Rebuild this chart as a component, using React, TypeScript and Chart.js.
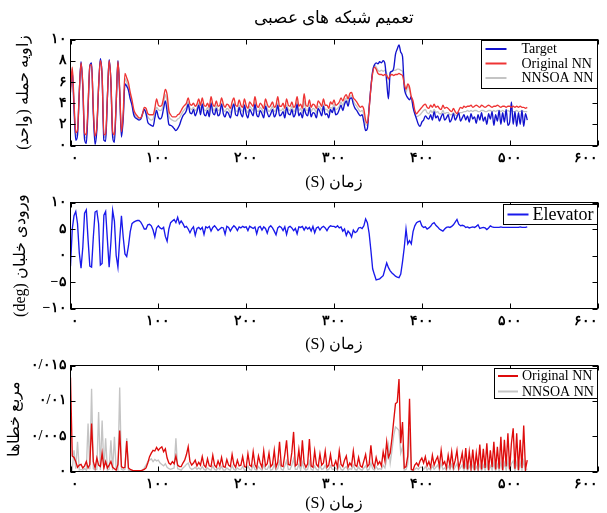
import React, { useEffect, useRef } from 'react';
import { Chart, registerables } from 'chart.js';

Chart.register(...registerables);

// ---------------- data ----------------
const SAMPLE_STEP_S = 2;
const TIME_S: number[] = Array.from({ length: 261 }, (_, i) => i * SAMPLE_STEP_S);

const TITLE_TEXT = 'تعمیم شبکه های عصبی';
const X_TITLE = '(S) زمان';
const Y1_TITLE = 'زاویه حمله (واحد)';
const Y2_TITLE = '(deg) ورودی خلبان';
const Y3_TITLE = 'مربع خطاها';

const X_TICKS = [0, 100, 200, 300, 400, 500, 600];

const TARGET_AOA = [
  5.5, 7.0, 3.5, 0.5, 1.0, 5.0, 7.9, 5.5, 0.6, 0.2, 3.5, 7.5, 7.8, 3.0, 0.1, 1.5, 5.5, 8.2, 6.5, 0.5, 0.4, 4.5, 8.1, 6.0, 0.8,
  0.3, 4.0, 8.0, 5.0, 0.8, 2.5, 5.8, 5.6, 5.2, 4.4, 3.8, 2.9, 2.6, 2.5, 2.4, 2.5, 3.0, 3.4, 3.0, 2.2, 2.0, 1.9, 1.8, 2.6, 3.3,
  2.7, 2.5, 2.7, 3.5, 4.2, 3.2, 2.0, 1.9, 1.8, 1.6, 1.4, 1.6, 1.9, 2.4, 2.8, 3.0, 3.3, 3.9, 3.1, 3.0, 3.4, 2.8, 3.2, 3.8, 2.9,
  3.9, 3.0, 2.8, 3.3, 2.7, 4.0, 3.1, 2.9, 3.5, 2.8, 3.0, 3.9, 3.0, 2.7, 3.2, 3.0, 2.6, 3.4, 3.9, 2.9, 2.8, 3.6, 3.0, 2.7, 3.8,
  3.0, 2.6, 3.4, 3.1, 2.8, 3.9, 2.9, 2.7, 3.3, 3.0, 2.6, 3.7, 3.1, 2.7, 3.0, 3.4, 2.7, 3.0, 3.8, 2.8, 2.9, 3.2, 2.6, 3.6, 3.0,
  2.9, 3.4, 2.7, 3.0, 3.9, 2.8, 3.1, 2.6, 3.5, 3.0, 2.8, 3.6, 2.7, 3.1, 3.0, 2.6, 3.5, 3.2, 2.8, 3.7, 2.9, 3.0, 2.6, 3.4, 3.1,
  3.6, 2.9, 3.0, 3.4, 3.8, 3.3, 3.9, 4.2, 3.7, 4.4, 4.5, 3.9, 3.5, 3.3, 3.0, 2.8, 2.9, 2.2, 1.4, 1.6, 3.6, 5.5, 7.0, 7.6, 7.8,
  7.7, 7.9, 7.8, 8.0, 7.7, 6.0, 4.4, 6.9, 7.0, 7.3, 8.6, 9.1, 9.5, 8.8, 8.4, 5.5, 4.8, 4.5, 4.3, 4.6, 3.6, 3.0, 2.5, 2.0, 1.8,
  2.2, 2.4, 2.8, 2.6, 2.5, 2.9, 2.4, 3.2, 2.6, 2.8, 2.3, 2.7, 3.0, 2.4, 2.6, 2.9, 2.2, 2.5, 3.0, 2.4, 2.7, 3.1, 2.3, 2.6, 2.9,
  2.4, 2.8, 2.2, 3.0, 2.5, 2.7, 2.1, 2.9, 2.4, 3.1, 2.3, 2.7, 2.0, 3.0, 2.5, 3.2, 1.9, 2.9, 2.3, 3.3, 2.0, 3.1, 2.2, 3.4, 1.9,
  2.2, 4.1, 2.0, 3.2, 1.8, 3.1, 2.0, 3.3, 1.8, 3.0, 2.4,
];

const ORIGINAL_NN_AOA = [
  5.0, 7.4, 4.0, 1.2, 1.5, 5.0, 7.8, 5.8, 1.2, 1.0, 3.8, 7.6, 7.6, 3.4, 0.9, 1.8, 5.6, 8.0, 6.6, 1.0, 1.1, 4.6, 8.0, 6.1, 1.3,
  1.0, 4.0, 7.9, 5.3, 1.3, 3.0, 6.8, 6.4, 5.9, 5.0, 4.3, 3.4, 3.0, 2.8, 2.6, 2.6, 3.0, 3.6, 3.5, 3.0, 2.9, 2.9, 2.9, 3.5, 4.4,
  3.8, 3.7, 3.8, 4.5, 5.3, 4.8, 3.3, 2.9, 2.7, 2.7, 2.7, 2.9, 3.0, 3.3, 3.6, 3.8, 4.0, 4.5, 3.9, 3.8, 4.0, 3.7, 3.9, 4.4, 3.8,
  4.5, 3.8, 3.7, 4.0, 3.6, 4.6, 3.9, 3.7, 4.2, 3.7, 3.8, 4.5, 3.9, 3.6, 3.9, 3.8, 3.5, 4.1, 4.5, 3.8, 3.7, 4.3, 3.8, 3.6, 4.4,
  3.8, 3.5, 4.1, 3.9, 3.7, 4.6, 3.8, 3.6, 4.0, 3.8, 3.5, 4.4, 3.9, 3.6, 3.8, 4.1, 3.6, 3.8, 4.6, 3.7, 3.7, 4.0, 3.5, 4.4, 3.8,
  3.7, 4.1, 3.6, 3.8, 4.6, 3.7, 3.9, 3.5, 4.9, 3.8, 3.7, 4.3, 3.6, 3.9, 3.8, 3.5, 4.2, 4.0, 3.7, 4.4, 3.8, 3.8, 3.5, 4.1, 3.9,
  4.3, 3.8, 3.9, 4.1, 4.5, 4.2, 4.6, 4.8, 4.4, 4.9, 5.0, 4.5, 4.3, 4.1, 3.8, 3.6, 3.7, 3.4, 2.4, 2.1, 3.5, 5.4, 6.8, 7.4, 7.2,
  6.8, 6.7, 6.7, 6.6, 6.7, 6.6, 6.3, 6.6, 6.7, 6.6, 6.7, 6.7, 6.8, 6.7, 6.6, 5.8, 5.3, 5.8, 5.5, 4.6, 4.2, 3.3, 3.0, 3.2, 3.4,
  3.6, 3.8, 3.9, 3.6, 3.5, 3.8, 3.6, 3.9, 3.6, 3.7, 3.5, 3.4, 3.8, 3.5, 3.6, 3.5, 3.3, 3.2, 3.5, 3.2, 3.0, 3.3, 3.6, 3.5, 3.7,
  3.6, 3.7, 3.7, 3.8, 3.6, 3.7, 3.8, 3.7, 3.6, 3.8, 3.7, 3.6, 3.7, 3.8, 3.7, 3.6, 3.7, 3.7, 3.8, 3.7, 3.6, 3.7, 3.7, 3.6, 3.7,
  3.7, 3.6, 3.7, 3.6, 3.7, 3.6, 3.7, 3.6, 3.6, 3.5, 3.6,
];

const NNSOA_NN_AOA = [
  5.3, 7.2, 3.8, 0.9, 1.3, 5.0, 7.8, 5.7, 0.9, 0.7, 3.7, 7.5, 7.7, 3.2, 0.6, 1.7, 5.5, 8.1, 6.5, 0.8, 0.8, 4.5, 8.0, 6.0, 1.0,
  0.7, 4.0, 8.0, 5.1, 1.1, 2.7, 6.3, 6.0, 5.5, 4.7, 4.0, 3.1, 2.8, 2.6, 2.5, 2.5, 2.9, 3.4, 3.2, 2.7, 2.5, 2.4, 2.5, 3.1, 3.6,
  3.4, 3.3, 3.4, 4.0, 4.8, 4.1, 2.8, 2.5, 2.4, 2.3, 2.3, 2.5, 2.6, 2.9, 3.2, 3.4, 3.6, 4.1, 3.5, 3.4, 3.6, 3.3, 3.5, 4.0, 3.4,
  4.0, 3.4, 3.3, 3.6, 3.2, 4.1, 3.5, 3.3, 3.8, 3.3, 3.4, 4.0, 3.4, 3.2, 3.5, 3.4, 3.1, 3.7, 4.0, 3.3, 3.2, 3.8, 3.4, 3.2, 3.9,
  3.4, 3.1, 3.7, 3.5, 3.3, 4.1, 3.3, 3.2, 3.6, 3.4, 3.1, 3.9, 3.5, 3.2, 3.4, 3.7, 3.2, 3.4, 4.0, 3.3, 3.3, 3.5, 3.1, 3.8, 3.4,
  3.3, 3.7, 3.2, 3.4, 4.1, 3.3, 3.5, 3.1, 4.2, 3.4, 3.3, 3.8, 3.2, 3.5, 3.4, 3.1, 3.7, 3.6, 3.3, 3.9, 3.4, 3.4, 3.1, 3.6, 3.5,
  3.9, 3.4, 3.5, 3.7, 4.1, 3.8, 4.2, 4.5, 4.0, 4.6, 4.7, 4.2, 3.9, 3.7, 3.4, 3.2, 3.3, 2.9, 2.0, 1.9, 3.5, 5.5, 7.0, 7.6, 7.4,
  7.1, 7.0, 7.1, 7.0, 7.1, 6.8, 6.2, 6.8, 7.0, 7.1, 7.1, 7.2, 7.2, 7.1, 7.0, 5.9, 5.0, 5.6, 5.2, 4.4, 3.8, 3.0, 2.7, 2.8, 2.9,
  3.1, 3.3, 3.4, 3.1, 3.0, 3.3, 3.1, 3.4, 3.1, 3.2, 3.0, 3.0, 3.3, 3.0, 3.1, 3.1, 2.9, 2.9, 3.1, 2.9, 2.8, 3.0, 3.1, 3.1, 3.2,
  3.2, 3.3, 3.2, 3.3, 3.2, 3.3, 3.3, 3.2, 3.2, 3.3, 3.3, 3.2, 3.2, 3.3, 3.3, 3.2, 3.3, 3.2, 3.3, 3.3, 3.2, 3.3, 3.2, 3.2, 3.3,
  3.2, 3.3, 3.2, 3.2, 3.3, 3.2, 3.2, 3.3, 3.2, 3.2, 3.2,
];

const ELEVATOR_DEG = [
  -2.0, 5.0, 7.5, 8.3, 6.0, 0.5, -2.4, 1.5, 8.0, 8.6, 3.0, -2.0, -2.2, 3.5, 8.2, 8.4, 6.0, -1.8, -1.5, 7.6, 8.3, 3.0, -2.2, 2.5, 8.5,
  6.5, 0.0, -2.2, 3.0, 7.5, 3.5, 0.3, -0.2, 1.8, 4.5, 6.0, 6.3, 6.5, 6.6, 6.6, 6.3, 5.7, 5.0, 5.0, 5.8, 5.9, 5.6, 4.8, 3.5, 5.2,
  5.6, 5.2, 5.0, 5.3, 3.6, 2.7, 5.0, 6.2, 6.5, 6.8, 6.2, 7.2, 6.0, 6.5, 6.0, 5.3, 5.5, 5.0, 4.3, 5.0, 5.4, 3.8, 5.1, 5.3, 4.9,
  5.3, 4.0, 5.4, 5.2, 5.5, 4.6, 5.3, 5.6, 5.2, 4.7, 5.0, 5.3, 5.2, 4.0, 5.5, 5.3, 4.6, 5.2, 5.6, 5.3, 4.7, 5.4, 5.2, 5.5, 5.3,
  5.4, 4.7, 5.5, 5.3, 5.1, 5.4, 4.1, 5.3, 5.5, 4.8, 5.4, 5.1, 4.2, 5.3, 5.6, 5.2, 4.6, 3.9, 5.2, 5.5, 5.3, 4.7, 5.4, 4.0, 5.3,
  5.5, 5.2, 4.7, 5.1, 4.1, 5.4, 5.3, 5.5, 4.8, 5.4, 5.0, 5.3, 4.6, 5.5, 4.3, 5.2, 5.4, 4.8, 5.3, 5.5, 5.2, 4.7, 5.3, 5.6, 5.5,
  5.5, 5.3, 5.6, 5.2, 5.4, 4.6, 5.0, 3.8, 4.6, 4.2, 3.5, 4.8, 4.3, 4.5, 5.2, 5.3, 5.1, 5.6, 6.9, 6.2, 4.2, 1.0, -2.5, -3.6, -4.6,
  -4.5, -4.4, -4.1, -3.8, -2.6, -1.4, -2.3, -2.9, -3.3, -3.6, -3.9, -4.1, -4.2, -3.5, -1.2, 1.5, 5.0, 2.2, 2.8, 2.2, 4.5, 5.6, 6.2, 6.4, 6.5,
  5.6, 5.3, 5.4, 5.0, 5.2, 5.5, 6.0, 6.2, 5.7, 5.4, 5.0, 4.8, 4.6, 5.0, 5.3, 5.4, 5.3, 5.5, 5.8, 6.3, 6.8, 5.9, 5.6, 5.7, 5.6,
  5.3, 5.4, 5.2, 5.3, 5.4, 5.3, 5.5, 5.8, 5.1, 5.2, 5.3, 5.2, 4.9, 5.2, 5.6, 5.4, 5.3, 5.3, 5.3, 5.3, 5.4, 5.3, 5.3, 5.3, 5.3,
  5.3, 5.3, 5.3, 5.3, 5.3, 5.3, 5.4, 5.3, 5.3, 5.3, 5.4,
];

const ORIGINAL_NN_SQ_ERR = [
  0.0133, 0.0022, 0.0020, 0.0014, 0.0006, 0.0009, 0.0010, 0.0005, 0.0008, 0.0014, 0.0005, 0.0010, 0.0068, 0.0014, 0.0005, 0.0019, 0.0009, 0.0007, 0.0026, 0.0005, 0.0014, 0.0005, 0.0009, 0.0014, 0.0006,
  0.0004, 0.0002, 0.0010, 0.0058, 0.0007, 0.0005, 0.0006, 0.0043, 0.0005, 0.0003, 0.0002, 0.0001, 0.0001, 0.0001, 0.0001, 0.0001, 0.0002, 0.0003, 0.0005, 0.0012, 0.0021, 0.0026, 0.0030, 0.0029, 0.0034,
  0.0030, 0.0033, 0.0035, 0.0028, 0.0032, 0.0019, 0.0012, 0.0010, 0.0014, 0.0011, 0.0022, 0.0009, 0.0007, 0.0007, 0.0012, 0.0016, 0.0024, 0.0035, 0.0014, 0.0009, 0.0012, 0.0016, 0.0008, 0.0013, 0.0009,
  0.0021, 0.0009, 0.0006, 0.0018, 0.0008, 0.0007, 0.0023, 0.0009, 0.0006, 0.0015, 0.0008, 0.0020, 0.0007, 0.0006, 0.0017, 0.0009, 0.0007, 0.0024, 0.0010, 0.0006, 0.0016, 0.0008, 0.0009, 0.0021, 0.0007,
  0.0006, 0.0025, 0.0009, 0.0007, 0.0028, 0.0010, 0.0005, 0.0022, 0.0012, 0.0006, 0.0029, 0.0008, 0.0011, 0.0026, 0.0007, 0.0010, 0.0030, 0.0006, 0.0013, 0.0042, 0.0008, 0.0007, 0.0024, 0.0044, 0.0010,
  0.0009, 0.0027, 0.0056, 0.0008, 0.0010, 0.0031, 0.0007, 0.0044, 0.0012, 0.0006, 0.0011, 0.0046, 0.0008, 0.0006, 0.0029, 0.0010, 0.0007, 0.0025, 0.0009, 0.0012, 0.0029, 0.0006, 0.0009, 0.0024, 0.0008,
  0.0008, 0.0015, 0.0006, 0.0029, 0.0010, 0.0007, 0.0016, 0.0022, 0.0006, 0.0012, 0.0008, 0.0029, 0.0009, 0.0007, 0.0020, 0.0008, 0.0006, 0.0015, 0.0024, 0.0007, 0.0010, 0.0037, 0.0012, 0.0006, 0.0020,
  0.0010, 0.0014, 0.0008, 0.0028, 0.0015, 0.0042, 0.0020, 0.0026, 0.0047, 0.0072, 0.0096, 0.0098, 0.0131, 0.0040, 0.0070, 0.0005, 0.0007, 0.0022, 0.0103, 0.0003, 0.0002, 0.0009, 0.0012, 0.0008, 0.0015,
  0.0019, 0.0012, 0.0021, 0.0008, 0.0014, 0.0006, 0.0023, 0.0009, 0.0016, 0.0021, 0.0007, 0.0030, 0.0010, 0.0014, 0.0005, 0.0023, 0.0008, 0.0028, 0.0006, 0.0016, 0.0030, 0.0005, 0.0014, 0.0026, 0.0004,
  0.0033, 0.0003, 0.0028, 0.0005, 0.0031, 0.0002, 0.0026, 0.0006, 0.0038, 0.0003, 0.0032, 0.0005, 0.0040, 0.0002, 0.0030, 0.0006, 0.0042, 0.0003, 0.0035, 0.0004, 0.0049, 0.0002, 0.0045, 0.0007, 0.0054,
  0.0003, 0.0040, 0.0061, 0.0004, 0.0054, 0.0002, 0.0045, 0.0005, 0.0065, 0.0003, 0.0016,
];

const NNSOA_NN_SQ_ERR = [
  0.0010, 0.0003, 0.0030, 0.0004, 0.0042, 0.0002, 0.0003, 0.0002, 0.0004, 0.0002, 0.0068, 0.0003, 0.0117, 0.0004, 0.0002, 0.0003, 0.0084, 0.0002, 0.0072, 0.0003, 0.0047, 0.0002, 0.0003, 0.0044, 0.0002,
  0.0049, 0.0003, 0.0002, 0.0119, 0.0003, 0.0002, 0.0003, 0.0047, 0.0002, 0.0001, 0.0001, 0.0000, 0.0000, 0.0000, 0.0000, 0.0001, 0.0002, 0.0005, 0.0009, 0.0014, 0.0016, 0.0018, 0.0014, 0.0017, 0.0015,
  0.0016, 0.0012, 0.0010, 0.0008, 0.0011, 0.0006, 0.0004, 0.0003, 0.0004, 0.0005, 0.0047, 0.0004, 0.0003, 0.0002, 0.0005, 0.0007, 0.0010, 0.0012, 0.0005, 0.0003, 0.0004, 0.0006, 0.0003, 0.0005, 0.0003,
  0.0007, 0.0003, 0.0002, 0.0005, 0.0003, 0.0002, 0.0008, 0.0003, 0.0002, 0.0005, 0.0003, 0.0007, 0.0002, 0.0002, 0.0005, 0.0003, 0.0002, 0.0008, 0.0003, 0.0002, 0.0005, 0.0003, 0.0003, 0.0007, 0.0002,
  0.0002, 0.0008, 0.0003, 0.0002, 0.0009, 0.0003, 0.0002, 0.0007, 0.0004, 0.0002, 0.0009, 0.0003, 0.0003, 0.0008, 0.0002, 0.0003, 0.0010, 0.0002, 0.0004, 0.0014, 0.0003, 0.0002, 0.0008, 0.0015, 0.0003,
  0.0003, 0.0009, 0.0018, 0.0003, 0.0003, 0.0010, 0.0002, 0.0013, 0.0004, 0.0002, 0.0003, 0.0014, 0.0003, 0.0002, 0.0008, 0.0003, 0.0002, 0.0008, 0.0003, 0.0004, 0.0009, 0.0002, 0.0003, 0.0008, 0.0003,
  0.0003, 0.0005, 0.0002, 0.0009, 0.0003, 0.0002, 0.0005, 0.0007, 0.0002, 0.0004, 0.0003, 0.0009, 0.0003, 0.0002, 0.0006, 0.0003, 0.0002, 0.0005, 0.0008, 0.0002, 0.0003, 0.0012, 0.0004, 0.0002, 0.0007,
  0.0003, 0.0004, 0.0003, 0.0009, 0.0005, 0.0018, 0.0037, 0.0012, 0.0030, 0.0051, 0.0063, 0.0061, 0.0058, 0.0026, 0.0035, 0.0002, 0.0003, 0.0010, 0.0061, 0.0002, 0.0001, 0.0003, 0.0005, 0.0003, 0.0006,
  0.0006, 0.0003, 0.0007, 0.0002, 0.0005, 0.0002, 0.0008, 0.0003, 0.0006, 0.0009, 0.0002, 0.0011, 0.0003, 0.0005, 0.0002, 0.0008, 0.0003, 0.0010, 0.0002, 0.0006, 0.0011, 0.0002, 0.0005, 0.0009, 0.0001,
  0.0010, 0.0001, 0.0008, 0.0002, 0.0009, 0.0001, 0.0007, 0.0002, 0.0010, 0.0001, 0.0009, 0.0002, 0.0011, 0.0001, 0.0008, 0.0002, 0.0012, 0.0001, 0.0010, 0.0001, 0.0013, 0.0001, 0.0012, 0.0002, 0.0014,
  0.0001, 0.0011, 0.0015, 0.0001, 0.0013, 0.0001, 0.0012, 0.0002, 0.0015, 0.0001, 0.0004,
];

// ---------------- helpers ----------------
const FA_DIGITS = ['۰', '۱', '۲', '۳', '۴', '۵', '۶', '۷', '۸', '۹'];
function toFa(v: number): string {
  const s = String(Number(Number(v).toFixed(4)));
  return s.replace(/[0-9]/g, (d) => FA_DIGITS[Number(d)]).replace('.', '/').replace('-', '−');
}

const pts = (ys: number[]) => ys.map((y, i) => ({ x: TIME_S[i], y }));

const SERIF = '"Liberation Serif", "DejaVu Serif", serif';
Chart.defaults.font.family = SERIF;
Chart.defaults.color = '#000';

const CANVAS_W = 607;
const CANVAS_H = 513;
const AREA_LEFT = 70.5;
const AREA_RIGHT = 597.5;

const framePlugin = {
  id: 'matlabFrame',
  afterDatasetsDraw(chart: any) {
    const { ctx, chartArea: a, scales } = chart;
    const xs = scales.x;
    const ys = scales.y;
    const L = 5;
    ctx.save();
    ctx.strokeStyle = '#000';
    ctx.lineWidth = 1;
    ctx.beginPath();
    xs.ticks.forEach((t: any) => {
      const px = Math.round(xs.getPixelForValue(t.value)) + 0.5;
      ctx.moveTo(px, a.bottom);
      ctx.lineTo(px, a.bottom - L);
      ctx.moveTo(px, a.top);
      ctx.lineTo(px, a.top + L);
    });
    ys.ticks.forEach((t: any) => {
      const py = Math.round(ys.getPixelForValue(t.value)) + 0.5;
      ctx.moveTo(a.left, py);
      ctx.lineTo(a.left + L, py);
      ctx.moveTo(a.right, py);
      ctx.lineTo(a.right - L, py);
    });
    ctx.stroke();
    ctx.strokeRect(a.left, a.top, a.right - a.left, a.bottom - a.top);
    ctx.restore();
  },
};

function makeLegend(cfg: {
  width: number; height: number; offsetTop: number; rows: number[];
  lineFrom: number; lineTo: number; textX: number; fontSize: number;
}) {
  return {
    id: 'boxLegend',
    afterDraw(chart: any) {
      const { ctx, chartArea: a } = chart;
      const left = Math.round(a.right - cfg.width) + 0.5;
      const top = Math.round(a.top + cfg.offsetTop) + 0.5;
      ctx.save();
      ctx.fillStyle = '#fff';
      ctx.fillRect(left, top, a.right - left, cfg.height);
      ctx.strokeStyle = '#000';
      ctx.lineWidth = 1;
      ctx.strokeRect(left, top, a.right - left, cfg.height);
      chart.data.datasets.forEach((ds: any, i: number) => {
        const yy = top + cfg.rows[i];
        ctx.strokeStyle = ds.borderColor;
        ctx.lineWidth = 2;
        ctx.beginPath();
        ctx.moveTo(left + cfg.lineFrom, yy);
        ctx.lineTo(left + cfg.lineTo, yy);
        ctx.stroke();
        ctx.fillStyle = '#000';
        ctx.font = `${cfg.fontSize}px ${SERIF}`;
        ctx.textBaseline = 'middle';
        ctx.textAlign = 'left';
        ctx.fillText(ds.label, left + cfg.textX, yy + 0.5);
      });
      ctx.restore();
    },
  };
}

const TICK_FONT = { size: 14, weight: 'bold' as const };

function xScale(height: number) {
  return {
    type: 'linear',
    position: 'bottom',
    min: 0,
    max: 600,
    afterBuildTicks: (s: any) => { s.ticks = X_TICKS.map((v) => ({ value: v })); },
    ticks: { callback: (v: any) => toFa(v), padding: 4, font: TICK_FONT, align: 'inner', maxRotation: 0, autoSkip: false },
    grid: { display: false, drawTicks: false },
    border: { display: false },
    title: { display: true, text: X_TITLE, font: { size: 16 }, padding: { top: 0, bottom: 0 } },
    afterFit: (s: any) => { s.height = height; s.paddingLeft = 0; s.paddingRight = 0; },
  };
}

function yScale(min: number, max: number, step: number, title: string, titleX: number) {
  return {
    type: 'linear',
    position: 'left',
    min,
    max,
    ticks: { stepSize: step, callback: (v: any) => toFa(v), padding: 4, font: TICK_FONT },
    grid: { display: false, drawTicks: false },
    border: { display: false },
    title: { display: true, text: title, font: { size: 16 }, padding: { top: titleX - 9.6, bottom: 0 } },
    afterFit: (s: any) => { s.width = AREA_LEFT; s.paddingTop = 0; s.paddingBottom = 0; },
  };
}

const lineDs = (label: string, data: number[], color: string, order: number, smooth = false) => ({
  label,
  data: pts(data),
  borderColor: color,
  backgroundColor: color,
  borderWidth: 1.35,
  pointRadius: 0,
  tension: smooth ? 0.4 : 0,
  cubicInterpolationMode: smooth ? 'monotone' : 'default',
  fill: false,
  order,
});

const BLUE = 'rgb(18, 18, 205)';
const RED1 = 'rgb(238, 52, 52)';
const GRAY = 'rgb(196, 196, 196)';
const ELEV_BLUE = 'rgb(25, 25, 235)';
const RED3 = 'rgb(222, 12, 12)';

const baseOptions = (padding: any, scales: any) => ({
  responsive: false,
  animation: false,
  devicePixelRatio: 1,
  layout: { padding },
  plugins: { legend: { display: false }, tooltip: { enabled: false }, title: { display: false } },
  scales,
});

function config1(): any {
  return {
    type: 'line',
    data: {
      datasets: [
        lineDs('Target', TARGET_AOA, BLUE, 1, true),
        lineDs('Original NN', ORIGINAL_NN_AOA, RED1, 0, true),
        lineDs('NNSOA NN', NNSOA_NN_AOA, GRAY, 2, true),
      ],
    },
    options: baseOptions(
      { left: 0, right: CANVAS_W - AREA_RIGHT, top: 0, bottom: CANVAS_H - 192 },
      {
        x: xScale(46.5),
        xTop: {
          type: 'linear',
          position: 'top',
          min: 0,
          max: 600,
          ticks: { display: false },
          grid: { display: false, drawTicks: false },
          border: { display: false },
          title: { display: true, text: TITLE_TEXT, font: { size: 17 }, padding: { top: 8, bottom: 0 } },
          afterFit: (s: any) => { s.height = 39.5; s.paddingLeft = 0; s.paddingRight = 0; },
        },
        y: yScale(0, 10, 2, Y1_TITLE, 24),
      }
    ),
    plugins: [
      framePlugin,
      makeLegend({ width: 117, height: 48, offsetTop: 0.5, rows: [8.5, 23, 37.5], lineFrom: 4, lineTo: 25, textX: 40, fontSize: 14 }),
    ],
  };
}

function config2(): any {
  return {
    type: 'line',
    data: { datasets: [lineDs('Elevator', ELEVATOR_DEG, ELEV_BLUE, 0)] },
    options: baseOptions(
      { left: 0, right: CANVAS_W - AREA_RIGHT, top: 202.5, bottom: CANVAS_H - 354 },
      {
        x: xScale(45.5),
        y: yScale(-10, 10, 5, Y2_TITLE, 21),
      }
    ),
    plugins: [
      framePlugin,
      makeLegend({ width: 95, height: 20, offsetTop: 1.5, rows: [10], lineFrom: 4, lineTo: 25, textX: 29, fontSize: 18 }),
    ],
  };
}

function config3(): any {
  return {
    type: 'line',
    data: {
      datasets: [
        lineDs('Original NN', ORIGINAL_NN_SQ_ERR, RED3, 0),
        lineDs('NNSOA NN', NNSOA_NN_SQ_ERR, GRAY, 1),
      ],
    },
    options: baseOptions(
      { left: 0, right: CANVAS_W - AREA_RIGHT, top: 365.5, bottom: 0 },
      {
        x: xScale(41.5),
        y: yScale(0, 0.015, 0.005, Y3_TITLE, 15),
      }
    ),
    plugins: [
      framePlugin,
      makeLegend({ width: 104, height: 30, offsetTop: 2.5, rows: [7.5, 23], lineFrom: 3.5, lineTo: 23.5, textX: 27.5, fontSize: 14 }),
    ],
  };
}

const canvasStyle: React.CSSProperties = {
  position: 'absolute',
  left: 0,
  top: 0,
  width: CANVAS_W,
  height: CANVAS_H,
};

export default function App() {
  const c1 = useRef<HTMLCanvasElement>(null);
  const c2 = useRef<HTMLCanvasElement>(null);
  const c3 = useRef<HTMLCanvasElement>(null);

  useEffect(() => {
    const charts = [
      new Chart(c1.current as HTMLCanvasElement, config1()),
      new Chart(c2.current as HTMLCanvasElement, config2()),
      new Chart(c3.current as HTMLCanvasElement, config3()),
    ];
    return () => charts.forEach((c) => c.destroy());
  }, []);

  return (
    <div style={{ position: 'absolute', left: 0, top: 0, width: CANVAS_W, height: CANVAS_H, background: '#fff' }}>
      <canvas ref={c1} width={CANVAS_W} height={CANVAS_H} style={canvasStyle} />
      <canvas ref={c2} width={CANVAS_W} height={CANVAS_H} style={canvasStyle} />
      <canvas ref={c3} width={CANVAS_W} height={CANVAS_H} style={canvasStyle} />
    </div>
  );
}
